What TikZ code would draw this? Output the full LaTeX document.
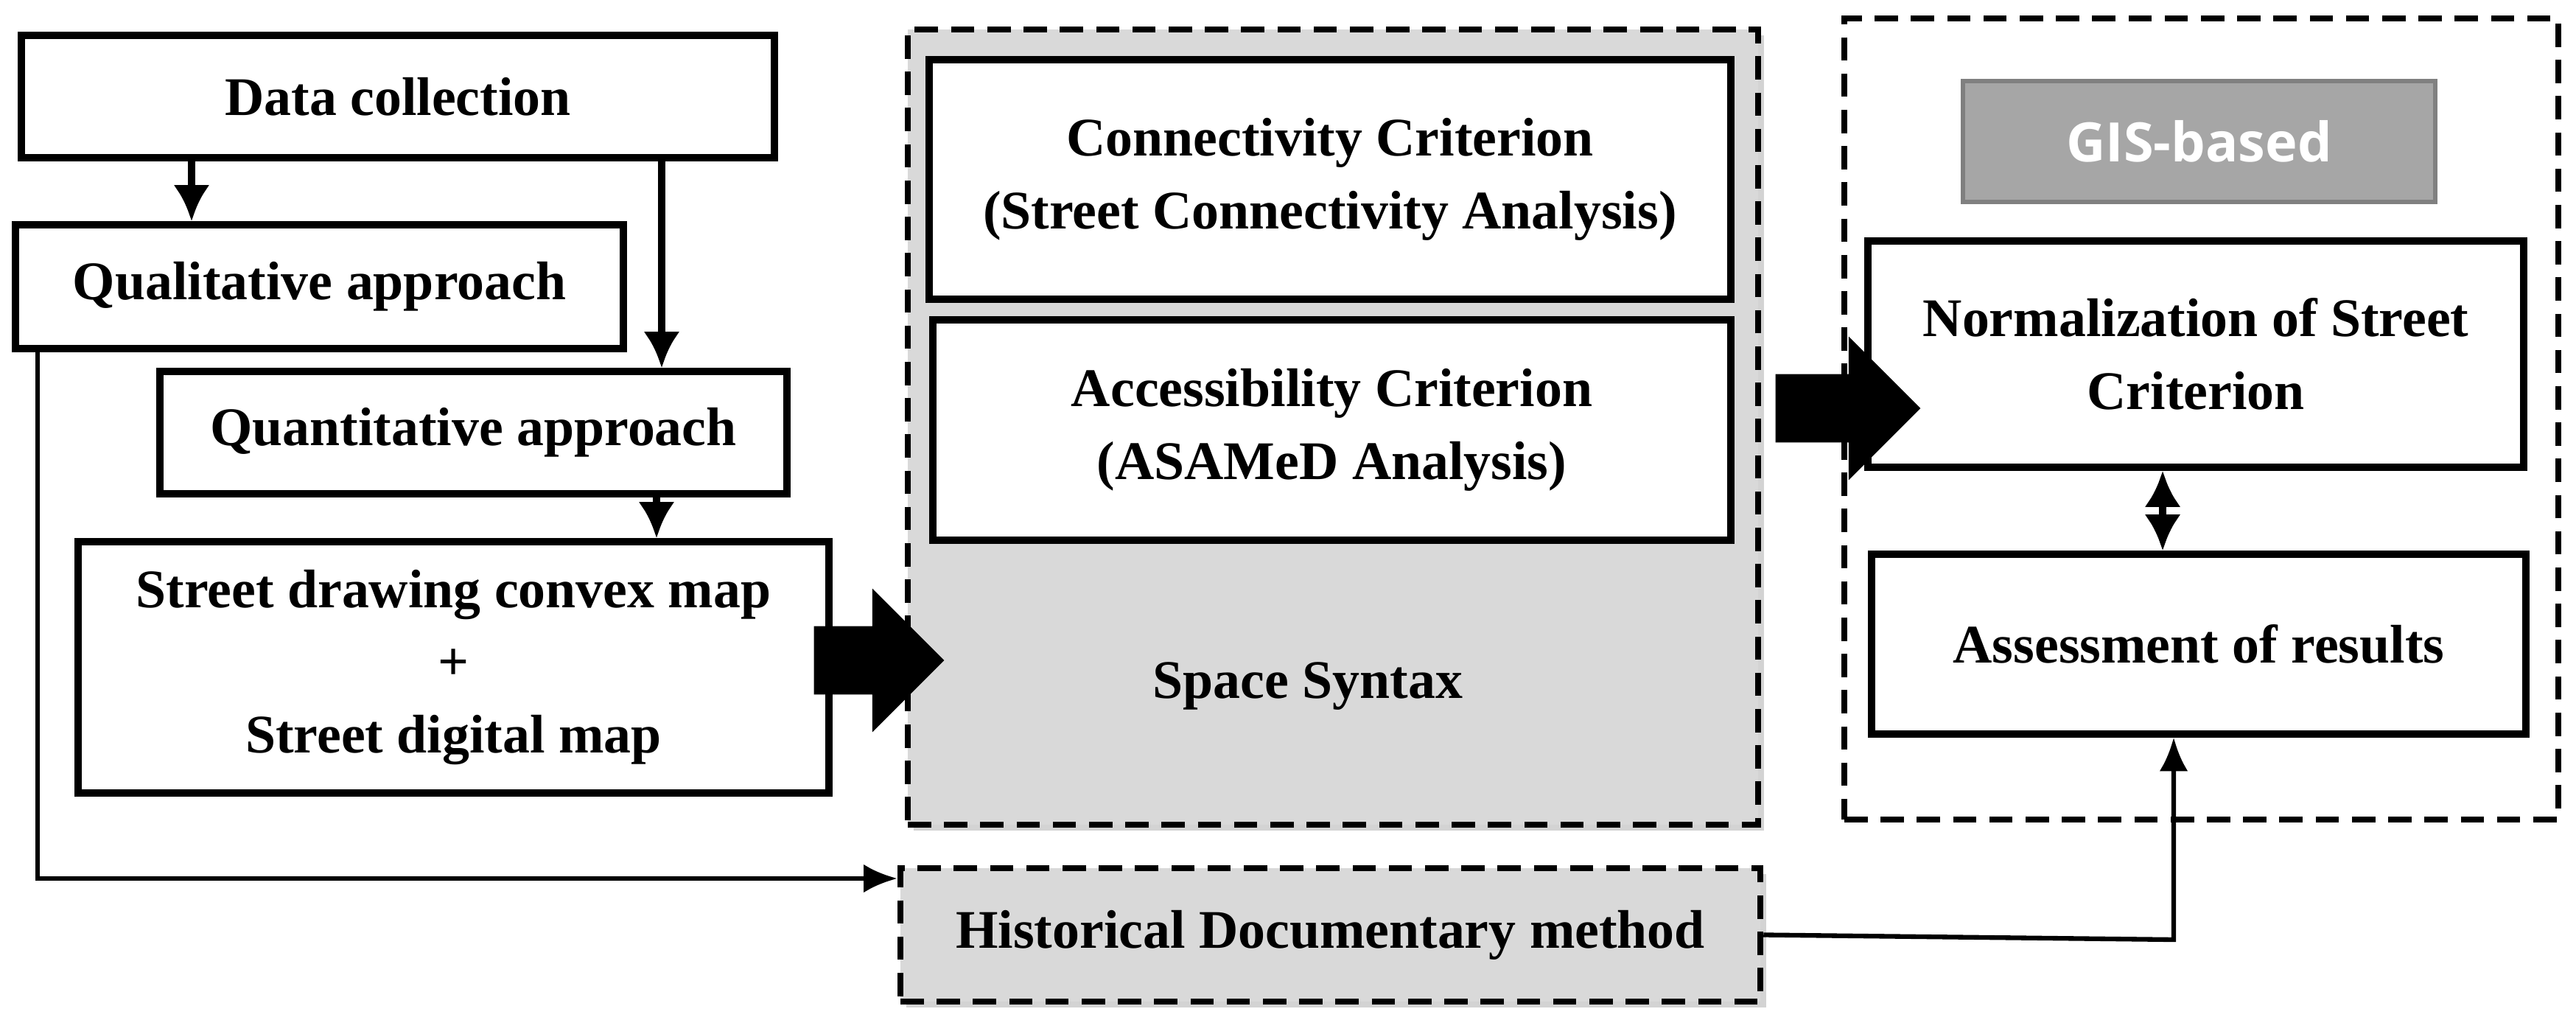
\documentclass[tikz,border=0pt]{standalone}
\usepackage{fontspec}
\setmainfont{Liberation Serif}
\newfontfamily\gisfont{Open Sans}
\usetikzlibrary{shapes.arrows,shadows,arrows.meta}
\definecolor{panelgray}{HTML}{D9D9D9}
\definecolor{gisgray}{HTML}{A6A6A6}
\begin{document}
\begin{tikzpicture}[font=\bfseries\fontsize{21}{28}\selectfont,
                    box/.style={draw, line width=2.6pt, fill=white, align=center, inner sep=0pt},
                    panel/.style={draw, line width=2.4pt, dashed, dash pattern=on 9pt off 5pt},
                    link/.style={line width=2.8pt, -{Latex[length=14pt,width=14pt]}},
                    thin link/.style={line width=1.8pt, -{Latex[length=13pt,width=11pt]}},
                    big arrow/.style={single arrow, fill=black, draw=black, inner xsep=0pt, inner ysep=0.45cm,
                                      single arrow head extend=0.5cm, single arrow head indent=0pt,
                                      minimum height=1.75cm}]
                    \useasboundingbox (0,0) rectangle (34.96,-13.84);

                    % Panels
                    \node[panel, fill=panelgray, minimum width=11.54cm, minimum height=10.79cm,
                          drop shadow={opacity=0.35}] (space) at (18.09,-5.795) {};
                    \node[panel, minimum width=9.69cm, minimum height=10.87cm] (gispanel) at (29.875,-5.685) {};
                    \node[panel, fill=panelgray, minimum width=11.67cm, minimum height=1.81cm,
                          drop shadow={opacity=0.35}] (hist) at (18.055,-12.685) {Historical Documentary method};

                    % Left column
                    \node[box, minimum width=10.22cm, minimum height=1.66cm] (data) at (5.40,-1.31) {Data collection};
                    \node[box, minimum width=8.25cm, minimum height=1.68cm] (qual) at (4.335,-3.89) {Qualitative approach};
                    \node[box, minimum width=8.51cm, minimum height=1.66cm] (quant) at (6.425,-5.87) {Quantitative approach};
                    \node[box, minimum width=10.19cm, minimum height=3.41cm] (street) at (6.155,-9.055)
                         {Street drawing convex map\\+\\Street digital map};

                    % Space Syntax
                    \node[box, minimum width=10.88cm, minimum height=3.25cm] (conn) at (18.05,-2.435)
                         {Connectivity Criterion\\(Street Connectivity Analysis)};
                    \node[box, minimum width=10.83cm, minimum height=2.99cm] (acc) at (18.075,-5.835)
                         {Accessibility Criterion\\(ASAMeD Analysis)};
                    \node (spacetxt) at (17.75,-9.31) {Space Syntax};

                    % GIS-based
                    \node[draw=gray, line width=1.5pt, fill=gisgray, text=white, font=\gisfont\bfseries\fontsize{21}{24}\selectfont,
                          minimum width=6.41cm, minimum height=1.64cm] (gis) at (29.845,-1.92) {GIS-based};
                    \node[box, minimum width=8.90cm, minimum height=3.07cm] (norm) at (29.80,-4.805)
                         {Normalization of Street\\Criterion};
                    \node[box, minimum width=8.88cm, minimum height=2.44cm] (assess) at (29.84,-8.74) {Assessment of results};

                    % Big arrows
                    \node[big arrow] (arrowA) at (11.70,-8.96) {};
                    \node[big arrow, minimum height=1.95cm] (arrowB) at (24.85,-5.54) {};

                    % Connectors
                    \draw[link] (data.south -| 2.60,0) -- (qual.north -| 2.60,0);
                    \draw[link] (data.south -| 8.98,0) -- (quant.north -| 8.98,0);
                    \draw[link] (quant.south -| 8.91,0) -- (street.north -| 8.91,0);
                    \draw[link, {Latex[length=14pt,width=14pt]}-{Latex[length=14pt,width=14pt]}]
                         (norm.south -| 29.35,0) -- (assess.north -| 29.35,0);
                    \coordinate (bend) at (0.51,-11.92);
                    \draw[thin link] (qual.south -| bend) -- (bend) -- (hist.west |- bend);
                    \coordinate (turn) at (29.50,-12.75);
                    \draw[thin link] (hist.east) -- (turn) -- (assess.south -| turn);
                    \end{tikzpicture}
\end{document}
